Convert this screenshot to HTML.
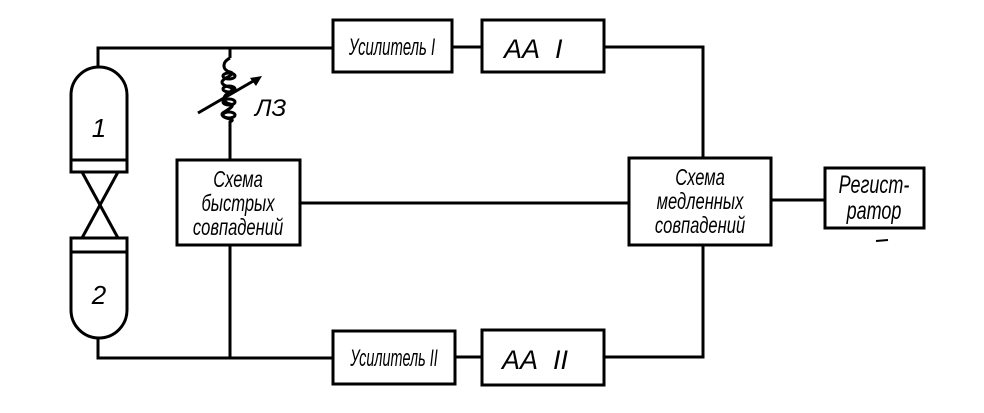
<!DOCTYPE html>
<html><head><meta charset="utf-8"><style>
body{margin:0;background:#fff}
svg text{font-family:"Liberation Sans",sans-serif;font-style:italic;fill:#000}
</style></head><body>
<svg width="984" height="408" viewBox="0 0 984 408" xmlns="http://www.w3.org/2000/svg">
<g fill="none" stroke="#000" stroke-width="3">
<polyline points="98,68 98,48 333,48"/>
<polyline points="98,338 98,358 333,358"/>
<line x1="452" y1="47" x2="482" y2="47"/>
<line x1="455" y1="357" x2="482" y2="357"/>
<polyline points="604,47 703,47 703,158"/>
<polyline points="604,357 703,357 703,245"/>
<line x1="300" y1="203" x2="629" y2="203"/>
<line x1="771" y1="200" x2="825" y2="200"/>
<line x1="230" y1="48" x2="230" y2="58"/>
<line x1="230" y1="128" x2="230" y2="160"/>
<line x1="230" y1="245" x2="230" y2="358"/>
<path d="M230,58 C222,62 222,70 230,72 C238,74 222,78 222,82 C222,88 238,86 230,92 C222,96 222,102 230,104 C238,106 222,112 222,114 C222,120 238,118 230,122 L230,128"/>
<ellipse cx="229" cy="76" rx="6" ry="3"/>
<ellipse cx="229" cy="89" rx="6" ry="3"/>
<ellipse cx="229" cy="102" rx="6" ry="3"/>
<ellipse cx="229" cy="115" rx="6" ry="3"/>
<line x1="198" y1="113" x2="255" y2="80"/>
<path d="M71,172 L71,95 A28,28 0 0 1 127,95 L127,172 Z"/>
<line x1="71" y1="160" x2="127" y2="160"/>
<path d="M71,238 L71,310 A28,28 0 0 0 127,310 L127,238 Z"/>
<line x1="71" y1="252" x2="127" y2="252"/>
<line x1="82" y1="172" x2="118" y2="238"/>
<line x1="118" y1="172" x2="82" y2="238"/>
<rect x="177" y="160" width="123" height="85"/>
<rect x="629" y="158" width="142" height="87"/>
<rect x="825" y="168" width="99" height="60"/>
<rect x="333" y="20" width="119" height="52"/>
<rect x="482" y="20" width="122" height="52"/>
<rect x="333" y="331" width="122" height="53"/>
<rect x="482" y="330" width="122" height="55"/>
<line x1="876" y1="241" x2="888" y2="240" stroke-width="2"/>
</g>
<path d="M262,76 L250,78 L256,86 Z" fill="#000"/>
<text x="99" y="137" font-size="26" text-anchor="middle">1</text>
<text x="99" y="304" font-size="26" text-anchor="middle">2</text>
<text x="255" y="116" font-size="24">ЛЗ</text>
<g font-size="23" text-anchor="middle">
<text transform="translate(238 187) scale(0.72 1)">Схема</text>
<text transform="translate(238 211) scale(0.72 1)">быстрых</text>
<text transform="translate(238 235) scale(0.72 1)">совпадений</text>
<text transform="translate(700 185) scale(0.72 1)">Схема</text>
<text transform="translate(700 209) scale(0.72 1)">медленных</text>
<text transform="translate(700 233) scale(0.72 1)">совпадений</text>
<text font-size="25" transform="translate(874 193) scale(0.72 1)">Регист-</text>
<text font-size="25" transform="translate(874 219) scale(0.72 1)">ратор</text>
<text font-size="24" transform="translate(392 55) scale(0.62 1)">Усилитель I</text>
<text font-size="24" transform="translate(394 366) scale(0.6 1)">Усилитель II</text>
</g>
<text x="504" y="58" font-size="27">AA&#160;&#160;I</text>
<text x="502" y="369" font-size="27">AA&#160;&#160;II</text>
</svg>
</body></html>
